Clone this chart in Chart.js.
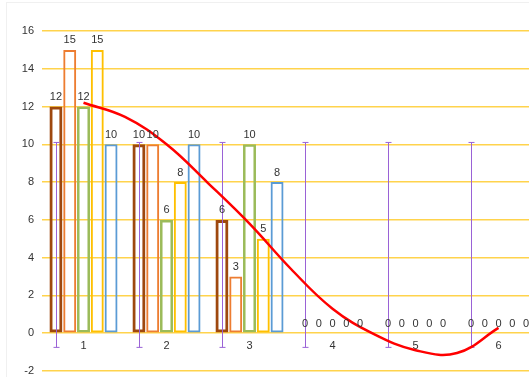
<!DOCTYPE html>
<html lang="en">
<head>
  <meta charset="UTF-8">
  <title>Bars with trend and error bars</title>
  <script src="https://cdn.jsdelivr.net/npm/chart.js"></script>
  <style>
    html, body { margin: 0; padding: 0; overflow: hidden; background: #fff; }
    #frame { position: absolute; left: 6px; top: 2px; width: 560px; height: 400px; border: 1px solid #f0f0f0; }
    #wrap { position: absolute; left: 0; top: 0; }
  </style>
</head>
<body>
  <div id="frame"></div>
  <div id="wrap"><canvas id="chart" width="541" height="377"></canvas></div>

  <script>
    // chart values
    const categories = ['1', '2', '3', '4', '5', '6'];
    const brownVals  = [12, 10, 6, 0, 0, 0];
    const orangeVals = [15, 10, 3, 0, 0, 0];
    const greenVals  = [12, 6, 10, 0, 0, 0];
    const yellowVals = [15, 8, 5, 0, 0, 0];
    const blueVals   = [10, 10, 8, 0, 0, 0];
    // red curve at whole and half categories
    const trendX = [1, 1.5, 2, 2.5, 3, 3.5, 4, 4.5, 5, 5.5, 6];
    const trendY = [12.2, 11.45, 10.0, 7.95, 5.8, 3.4, 1.3, -0.05, -0.9, -1.05, 0.28];
    const errHigh = [10.1, 10.1, 10.1, 10.1, 10.1, 10.1];
    const errLow  = [-0.75, -0.75, -0.75, -0.75, -0.75, -0.75];
    const yMin = -2, yMax = 16, yStep = 2;

    Chart.defaults.font.family = '"Liberation Sans", Arial, sans-serif';
    Chart.defaults.font.size = 11;
    Chart.defaults.color = '#333';

    // purple error bars drawn on the first series, under the red curve
    const errorBars = {
      id: 'errorBars',
      beforeDatasetDraw(chart, args) {
        if (args.index !== 0) return;
        const meta = chart.getDatasetMeta(1);
        const y = chart.scales.y;
        const ctx = chart.ctx;
        ctx.save();
        ctx.strokeStyle = '#9a62d6';
        ctx.lineWidth = 1;
        meta.data.forEach((bar, i) => {
          const x = Math.round(bar.x) + 0.5;
          const top = y.getPixelForValue(errHigh[i]);
          const bot = y.getPixelForValue(errLow[i]);
          ctx.beginPath();
          ctx.moveTo(x, top); ctx.lineTo(x, bot);
          ctx.moveTo(x - 3, top); ctx.lineTo(x + 3, top);
          ctx.moveTo(x - 3, bot); ctx.lineTo(x + 3, bot);
          ctx.stroke();
        });
        ctx.restore();
      }
    };

    // value labels above bars
    const barLabels = {
      id: 'barLabels',
      afterDatasetsDraw(chart) {
        const ctx = chart.ctx;
        ctx.save();
        ctx.font = '11px "Liberation Sans", Arial, sans-serif';
        ctx.fillStyle = '#333';
        ctx.textAlign = 'center';
        ctx.textBaseline = 'bottom';
        chart.data.datasets.forEach((ds, di) => {
          if (ds.type !== 'bar') return;
          chart.getDatasetMeta(di).data.forEach((el, i) => {
            ctx.fillText(String(ds.data[i]), el.x, el.y - 4);
          });
        });
        ctx.restore();
      }
    };

    function barSet(data, color, width) {
      return {
        type: 'bar',
        data: data,
        backgroundColor: 'transparent',
        borderColor: color,
        borderWidth: width,
        borderSkipped: false,
        categoryPercentage: 0.83,
        barPercentage: 0.94,
        order: 1
      };
    }

    new Chart(document.getElementById('chart'), {
      data: {
        labels: categories,
        datasets: [
          {
            type: 'line',
            parsing: false,
            // category index is position - 1
            data: trendX.map((x, i) => ({ x: x - 1, y: trendY[i] })),
            borderColor: '#ff0000',
            borderWidth: 2.5,
            pointRadius: 0,
            tension: 0.4,
            fill: false,
            order: 0
          },
          barSet(brownVals, '#9e480e', 3),
          barSet(orangeVals, '#ed7d31', 2),
          barSet(greenVals, '#9bbb59', 2.5),
          barSet(yellowVals, '#ffc000', 2),
          barSet(blueVals, '#5b9bd5', 2)
        ]
      },
      options: {
        responsive: false,
        animation: false,
        devicePixelRatio: 1,
        layout: { padding: { top: 31, bottom: 6, left: 0, right: 1 } },
        plugins: { legend: { display: false }, tooltip: { enabled: false } },
        scales: {
          x: {
            type: 'category',
            position: { y: 0 },
            grid: { display: false, drawTicks: false },
            border: { display: false },
            ticks: { padding: 6, maxRotation: 0 }
          },
          y: {
            min: yMin,
            max: yMax,
            ticks: { stepSize: yStep, padding: 8 },
            grid: { color: 'rgba(255, 192, 0, 0.7)', lineWidth: 1.5, drawTicks: false },
            border: { display: false },
            afterFit(scale) {
              scale.width = 42;
              scale.paddingBottom = 6;
            }
          }
        }
      },
      plugins: [errorBars, barLabels]
    });
  </script>
</body>
</html>
